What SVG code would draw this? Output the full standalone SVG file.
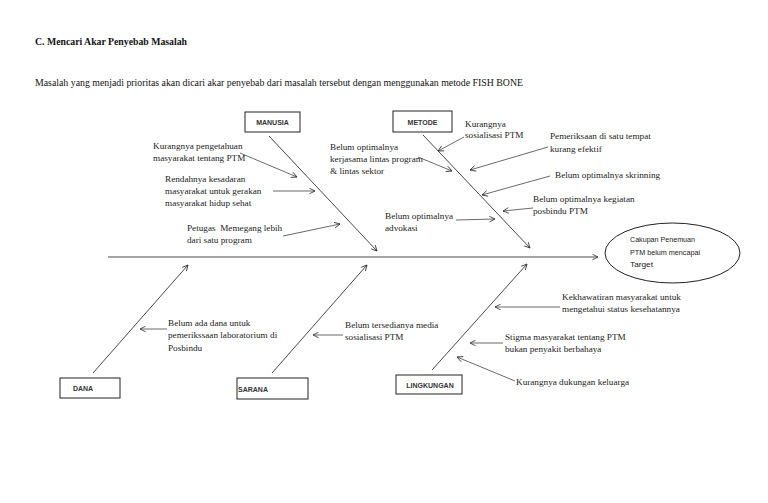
<svg xmlns="http://www.w3.org/2000/svg" width="768" height="503" viewBox="0 0 768 503">
<style>
.t{font-family:"Liberation Serif","Times New Roman",serif;font-size:9.2px;fill:#222}
.h{font-family:"Liberation Serif","Times New Roman",serif;font-size:10px;fill:#111}
.b{font-family:"Liberation Sans",Arial,sans-serif;font-size:7px;font-weight:bold;fill:#333;text-anchor:middle}
.e{font-family:"Liberation Sans",Arial,sans-serif;font-size:8px;fill:#222}
.box{fill:#fff;stroke:#222;stroke-width:1}
.ln{stroke:#333;stroke-width:0.9;fill:none}
.ar{stroke:#444;stroke-width:0.8;fill:none}
</style>
<defs>
<marker id="a" viewBox="0 0 10 10" refX="9" refY="5" markerWidth="7" markerHeight="7" orient="auto" markerUnits="userSpaceOnUse">
<path d="M1,1 L9,5 L1,9" fill="none" stroke="#333" stroke-width="1.2"/>
</marker>
</defs>
<rect width="768" height="503" fill="#fff"/>
<text class="h" x="35" y="45" font-weight="bold" textLength="152" lengthAdjust="spacingAndGlyphs">C. Mencari Akar Penyebab Masalah</text>
<text class="h" x="35" y="86" textLength="488" lengthAdjust="spacingAndGlyphs">Masalah yang menjadi prioritas akan dicari akar penyebab dari masalah tersebut dengan menggunakan metode FISH BONE</text>

<g id="connectors">
<line class="ln" x1="108" y1="257" x2="598" y2="257" marker-end="url(#a)"/>
<line class="ln" x1="269" y1="136" x2="377" y2="251" marker-end="url(#a)"/>
<line class="ln" x1="423" y1="135" x2="530" y2="248" marker-end="url(#a)"/>
<line class="ln" x1="93" y1="373" x2="188" y2="265" marker-end="url(#a)"/>
<line class="ln" x1="272" y1="373" x2="367" y2="265" marker-end="url(#a)"/>
<line class="ln" x1="432" y1="370" x2="527" y2="264" marker-end="url(#a)"/>
<line class="ar" x1="240" y1="153" x2="297" y2="177" marker-end="url(#a)"/>
<line class="ar" x1="273" y1="191" x2="315" y2="191" marker-end="url(#a)"/>
<line class="ar" x1="283" y1="236" x2="340" y2="224" marker-end="url(#a)"/>
<line class="ar" x1="418" y1="157" x2="452" y2="171" marker-end="url(#a)"/>
<line class="ar" x1="456" y1="220" x2="495" y2="219" marker-end="url(#a)"/>
<line class="ar" x1="464" y1="137" x2="438" y2="151" marker-end="url(#a)"/>
<line class="ar" x1="548" y1="147" x2="470" y2="170" marker-end="url(#a)"/>
<line class="ar" x1="550" y1="176" x2="482" y2="195" marker-end="url(#a)"/>
<line class="ar" x1="533" y1="208" x2="503" y2="211" marker-end="url(#a)"/>
<line class="ar" x1="167" y1="329" x2="140" y2="329" marker-end="url(#a)"/>
<line class="ar" x1="343" y1="335" x2="313" y2="335" marker-end="url(#a)"/>
<line class="ar" x1="560" y1="307" x2="495" y2="307" marker-end="url(#a)"/>
<line class="ar" x1="503" y1="343" x2="470" y2="343" marker-end="url(#a)"/>
<line class="ar" x1="515" y1="381" x2="457" y2="357" marker-end="url(#a)"/>
</g>

<g id="manusia"><rect class="box" x="245" y="112" width="55" height="20"/><text class="b" x="272.5" y="125">MANUSIA</text></g>
<g id="metode"><rect class="box" x="393" y="111" width="59" height="21"/><text class="b" x="422.5" y="124.5">METODE</text></g>
<g id="dana"><rect class="box" x="60" y="378" width="60" height="20"/><text class="b" x="83" y="391">DANA</text></g>
<g id="sarana"><rect class="box" x="237" y="378" width="71" height="21"/><text class="b" x="253" y="391.5">SARANA</text></g>
<g id="lingkungan"><rect class="box" x="396" y="375" width="66" height="19"/><text class="b" x="430" y="387.5">LINGKUNGAN</text></g>

<g id="masalah">
<ellipse cx="672.5" cy="253" rx="67.5" ry="30" fill="#fff" stroke="#222" stroke-width="1"/>
<text class="e" x="630" y="242" textLength="65" lengthAdjust="spacingAndGlyphs">Cakupan Penemuan</text>
<text class="e" x="630" y="255" textLength="70" lengthAdjust="spacingAndGlyphs">PTM belum mencapai</text>
<text class="e" x="630" y="267" textLength="23" lengthAdjust="spacingAndGlyphs">Target</text>
</g>

<g id="c1"><text class="t" x="153" y="149">Kurangnya pengetahuan</text><text class="t" x="153" y="161">masyarakat tentang PTM</text></g>
<g id="c2"><text class="t" x="165" y="182">Rendahnya kesadaran</text><text class="t" x="165" y="194">masyarakat untuk gerakan</text><text class="t" x="165" y="206">masyarakat hidup sehat</text></g>
<g id="c3"><text class="t" x="187" y="231">Petugas&#160; Memegang lebih</text><text class="t" x="187" y="243">dari satu program</text></g>
<g id="c4"><text class="t" x="330" y="150">Belum optimalnya</text><text class="t" x="330" y="162">kerjasama lintas program</text><text class="t" x="330" y="174">&amp; lintas sektor</text></g>
<g id="c5"><text class="t" x="385" y="219">Belum optimalnya</text><text class="t" x="385" y="231">advokasi</text></g>
<g id="c6"><text class="t" x="465" y="127">Kurangnya</text><text class="t" x="465" y="138">sosialisasi PTM</text></g>
<g id="c7"><text class="t" x="550" y="139">Pemeriksaan di satu tempat</text><text class="t" x="550" y="152">kurang efektif</text></g>
<g id="c8"><text class="t" x="555" y="178">Belum optimalnya skrinning</text></g>
<g id="c9"><text class="t" x="533" y="202">Belum optimalnya kegiatan</text><text class="t" x="533" y="214">posbindu PTM</text></g>
<g id="c10"><text class="t" x="168" y="326">Belum ada dana untuk</text><text class="t" x="168" y="338">pemerikssaan laboratorium di</text><text class="t" x="168" y="351">Posbindu</text></g>
<g id="c11"><text class="t" x="345" y="328">Belum tersedianya media</text><text class="t" x="345" y="340">sosialisasi PTM</text></g>
<g id="c12"><text class="t" x="562" y="300">Kekhawatiran masyarakat untuk</text><text class="t" x="562" y="312">mengetahui status kesehatannya</text></g>
<g id="c13"><text class="t" x="505" y="340">Stigma masyarakat tentang PTM</text><text class="t" x="505" y="352">bukan penyakit berbahaya</text></g>
<g id="c14"><text class="t" x="516" y="385">Kurangnya dukungan keluarga</text></g>
</svg>
